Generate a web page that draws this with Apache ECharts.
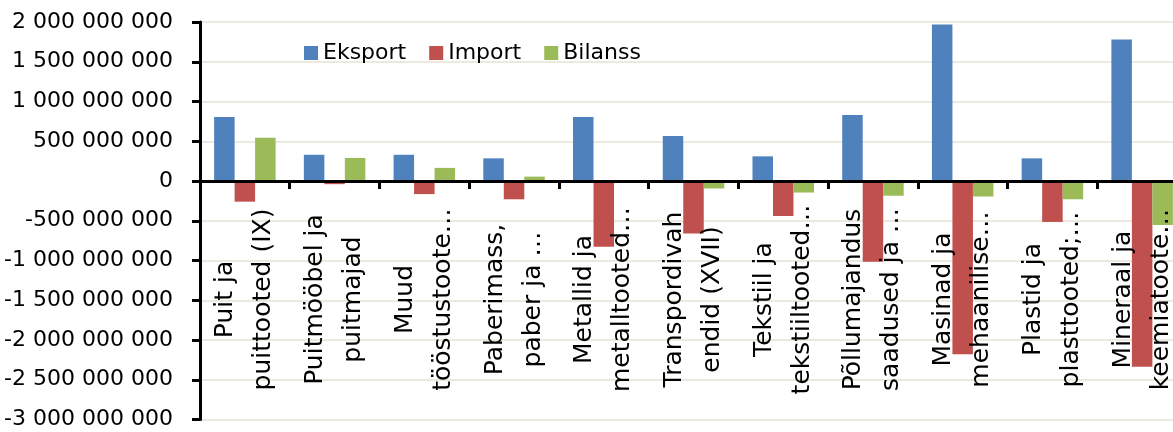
<!DOCTYPE html>
<html>
<head>
<meta charset="utf-8">
<script src="https://cdn.jsdelivr.net/npm/echarts@6/dist/echarts.min.js"></script>
<style>
  html, body { margin: 0; padding: 0; background: #fff; }
  #chart { width: 1173px; height: 432px; }
</style>
</head>
<body>
<div id="chart"></div>
<script>
// categories (two lines each, as in the original labels)
const categories = [
  "Puit ja\npuittooted (IX)",
  "Puitmööbel ja\npuitmajad",
  "Muud\ntööstustoote…",
  "Paberimass,\npaber ja …",
  "Metallid ja\nmetalltooted…",
  "Transpordivah\nendid (XVII)",
  "Tekstiil ja\ntekstiiltooted…",
  "Põllumajandus\nsaadused ja …",
  "Masinad ja\nmehaanilise…",
  "Plastid ja\nplasttooted;…",
  "Mineraal ja\nkeemiatoote…"
];
const seriesNames = ["Eksport", "Import", "Bilanss"];
const eksport = [805e6, 330e6, 330e6, 285e6, 805e6, 566e6, 310e6, 830e6, 1970e6, 285e6, 1780e6];
const importVals = [-260e6, -40e6, -165e6, -230e6, -826e6, -660e6, -440e6, -1015e6, -2180e6, -515e6, -2335e6];
const bilanss = [545e6, 290e6, 165e6, 55e6, -21e6, -94e6, -145e6, -185e6, -195e6, -230e6, -555e6];
const yMin = -3000000000;
const yMax = 2000000000;
const yStep = 500000000;

const colors = ["#4F81BD", "#C0504D", "#9BBB59"];
const font = "DejaVu Sans";

function fmt(v) {
  return String(v).replace(/\B(?=(\d{3})+(?!\d))/g, " ");
}

const myChart = echarts.init(document.getElementById("chart"));
const option = {
  animation: false,
  color: colors,
  textStyle: { fontFamily: font },
  legend: {
    data: seriesNames,
    left: 299,
    top: 37,
    icon: "rect",
    itemWidth: 14,
    itemHeight: 14,
    itemGap: 23,
    textStyle: { fontFamily: font, fontSize: 22, color: "#000" }
  },
  grid: {
    left: 200,
    right: -14,
    top: 22,
    bottom: 12.5,
    containLabel: false,
    outerBoundsMode: "none"
  },
  xAxis: {
    type: "category",
    data: categories,
    z: 10,
    axisLine: { onZero: true, lineStyle: { color: "#000", width: 3 } },
    axisTick: { show: true, length: 8, lineStyle: { color: "#000", width: 3 } },
    axisLabel: {
      interval: 0,
      rotate: 90,
      // labels sit centred about y ~ 300 (margin is counted from grid bottom here)
      margin: -120,
      align: "center",
      verticalAlign: "middle",
      fontFamily: font,
      fontSize: 25,
      lineHeight: 38,
      color: "#000"
    },
    splitLine: { show: false }
  },
  yAxis: {
    type: "value",
    min: yMin,
    max: yMax,
    interval: yStep,
    axisLine: { show: true, lineStyle: { color: "#000", width: 3 } },
    axisTick: { show: true, length: 8, lineStyle: { color: "#000", width: 3 } },
    axisLabel: {
      margin: 27,
      fontFamily: font,
      fontSize: 22,
      color: "#000",
      formatter: fmt
    },
    splitLine: { lineStyle: { color: "#ECE9DF", width: 2 } }
  },
  series: [
    { name: seriesNames[0], type: "bar", data: eksport, barWidth: 20.5, barGap: "0%" },
    { name: seriesNames[1], type: "bar", data: importVals, barWidth: 20.5, barGap: "0%" },
    { name: seriesNames[2], type: "bar", data: bilanss, barWidth: 20.5, barGap: "0%" }
  ]
};
myChart.setOption(option, true);
</script>
</body>
</html>
